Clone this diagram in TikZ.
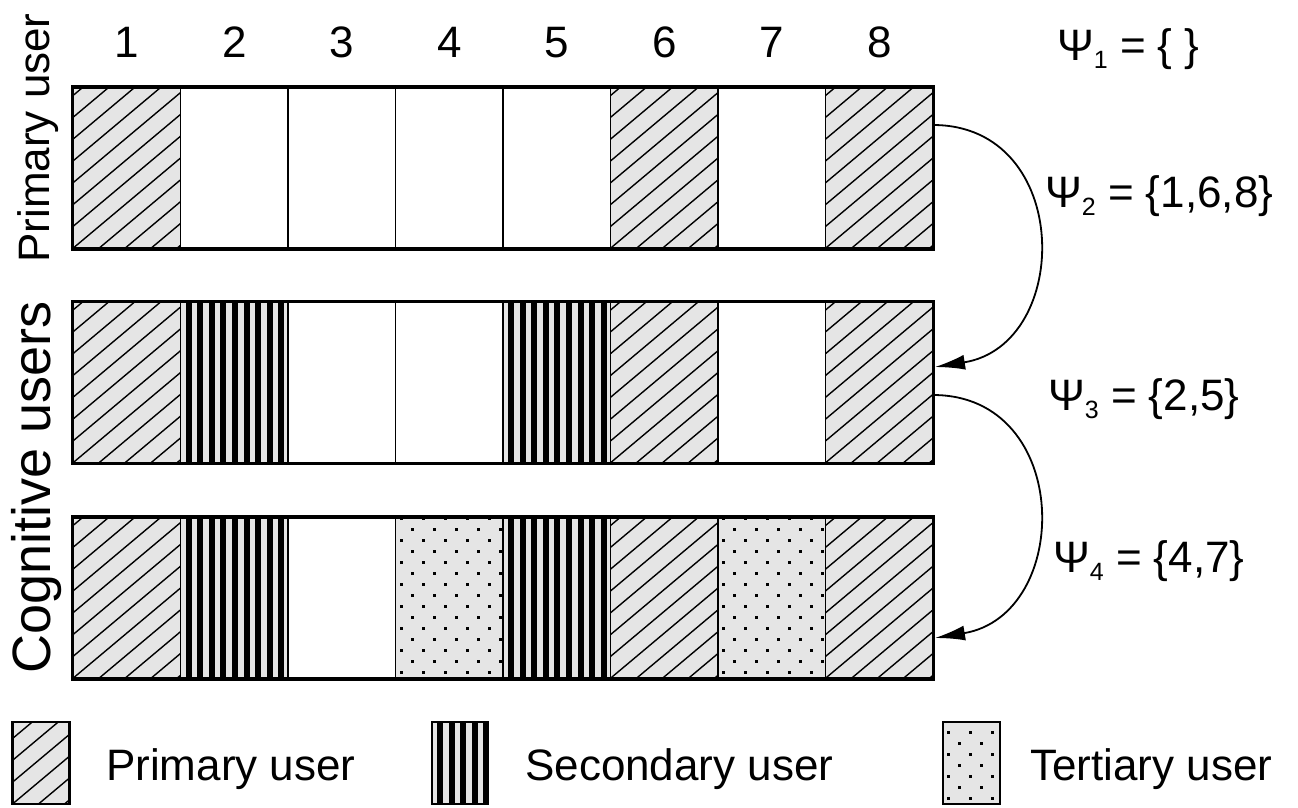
\documentclass[tikz,border=0pt]{standalone}
\usepackage{fontspec}
\setmainfont{Liberation Sans}
\usetikzlibrary{arrows.meta}
\definecolor{lg}{gray}{0.9}
\newcommand\psub[1]{\raisebox{-8pt}{\fontsize{25}{25}\selectfont #1}}
\begin{document}
\begin{tikzpicture}[x=1pt,y=-1pt,
  cell/.style={draw=black,line width=1.6pt,inner sep=0pt,minimum width=107.5pt,minimum height=160.5pt},
  pu/.style={cell,fill=lg,path picture={\foreach \k in {-9,...,5}{\draw[black,line width=1.4pt] ([xshift=\k*26pt]path picture bounding box.south west) -- ++(40:330pt);}}},
  su/.style={cell,fill=lg,path picture={\foreach \k in {0,...,8}{\fill[black] ([xshift=5pt+\k*11.6pt,yshift=-5pt]path picture bounding box.south west) rectangle ++(6pt,200pt);}}},
  tu/.style={cell,fill=lg,path picture={\foreach \j in {0,...,15}{\pgfmathsetmacro\off{mod(\j,2)*11}\foreach \i in {0,...,9}{\fill[black] ([xshift=\off pt+\i*22pt+4pt,yshift=\j*11pt+4pt]path picture bounding box.south west) rectangle ++(3pt,3pt);}}}},
  fr/.style={cell,fill=white},
  lbl/.style={font=\fontsize{44}{50}\selectfont,inner sep=0pt},
  conn/.style={line width=1.8pt,-{Latex[length=30pt,width=15pt]}}]
\useasboundingbox (0,0) rectangle (1298,807);
\fill[white] (0,0) rectangle (1298,807);
% rows
\foreach \s [count=\i] in {pu,fr,fr,fr,fr,pu,fr,pu}{
  \edef\tmp{\noexpand\node[\s] (r1c\i) at ({73+53.75+(\i-1)*107.5},168) {};}\tmp}
\foreach \s [count=\i] in {pu,su,fr,fr,su,pu,fr,pu}{
  \edef\tmp{\noexpand\node[\s] (r2c\i) at ({73+53.75+(\i-1)*107.5},382.5) {};}\tmp}
\foreach \s [count=\i] in {pu,su,fr,tu,su,pu,tu,pu}{
  \edef\tmp{\noexpand\node[\s] (r3c\i) at ({73+53.75+(\i-1)*107.5},598) {};}\tmp}
\foreach \r in {1,2,3}{\draw[line width=3pt] (r\r c1.north west) rectangle (r\r c8.south east);}
% column numbers
\foreach \i in {1,...,8}{\node[lbl,anchor=base] (n\i) at ({73+53.75+(\i-1)*107.5},57) {\i};}
% side labels
\node[lbl,rotate=90] (lpu) at (38,138) {Primary user};
\node[lbl,rotate=90,font=\fontsize{54}{60}\selectfont] (lcu) at (37,487) {Cognitive users};
% psi labels
\node[lbl,anchor=base west] (p1) at (1057,60) {Ψ\psub{1} = \{ \}};
\node[lbl,anchor=base west] (p2) at (1045,207) {Ψ\psub{2} = \{1,6,8\}};
\node[lbl,anchor=base west] (p3) at (1048,410) {Ψ\psub{3} = \{2,5\}};
\node[lbl,anchor=base west] (p4) at (1053,572) {Ψ\psub{4} = \{4,7\}};
% arrows
\coordinate (a1s) at (933,125);
\coordinate (a1e) at (935,367);
\coordinate (a2s) at (933,395);
\coordinate (a2e) at (935,638);
\draw[conn] (a1s) .. controls (1073,125) and (1073,345) .. (a1e);
\draw[conn] (a2s) .. controls (1073,395) and (1073,615) .. (a2e);
% legend
\node[pu,minimum width=57pt,minimum height=82pt,line width=2.5pt] (kp) at (41,763) {};
\node[su,minimum width=56pt,minimum height=82pt,line width=2.5pt] (ks) at (460,763) {};
\node[tu,minimum width=57pt,minimum height=82pt,line width=2.5pt] (kt) at (971.5,763) {};
\node[lbl,anchor=base west] (tp) at (106,780) {Primary user};
\node[lbl,anchor=base west] (ts) at (525,780) {Secondary user};
\node[lbl,anchor=base west] (tt) at (1030,780) {Tertiary user};
\end{tikzpicture}
\end{document}
